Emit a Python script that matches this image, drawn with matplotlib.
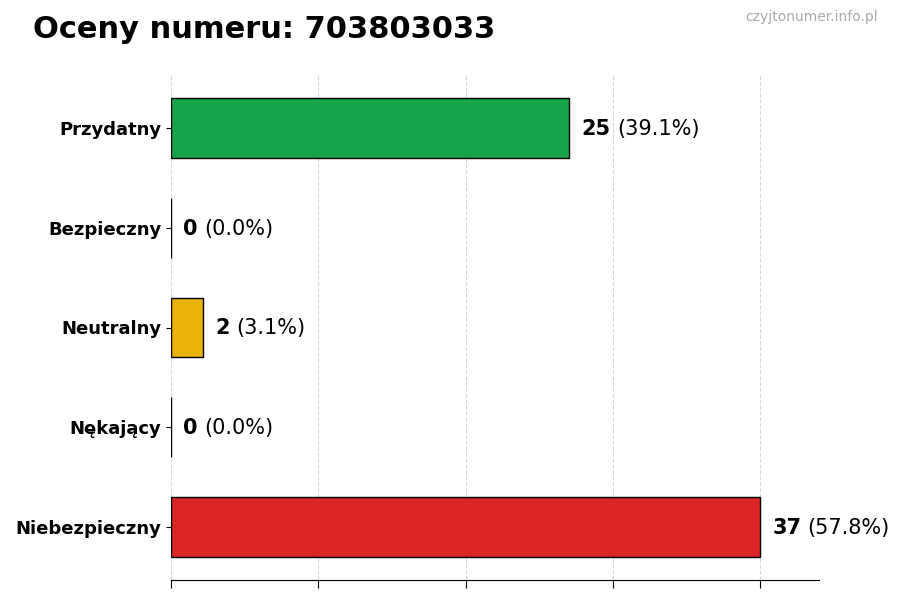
import matplotlib
matplotlib.use("Agg")
import matplotlib.pyplot as plt
import numpy as np

categories = ["Przydatny", "Bezpieczny", "Neutralny", "Nękający", "Niebezpieczny"]
values = [25, 0, 2, 0, 37]
percents = [39.1, 0.0, 3.1, 0.0, 57.8]
colors = ["#16a34a", "#9ca3af", "#eab308", "#f97316", "#dc2626"]
title = "Oceny numeru: 703803033"
watermark = "czyjtonumer.info.pl"

fig = plt.figure(figsize=(9, 6), dpi=100)
ax = fig.add_axes([171/900, 20/600, 648/900, 505/600])

y = np.arange(len(categories))
ax.barh(y, values, height=0.6, color=colors, edgecolor="black", linewidth=1)
ax.invert_yaxis()
ax.set_yticks(y)
ax.set_yticklabels(categories, fontsize=13, fontweight="bold")
vmax = max(values)
ax.set_xlim(0, vmax * 1.1)
ax.set_xticks(np.linspace(0, vmax, 5))
ax.set_xticklabels([])
ax.grid(axis="x", linestyle="--", color="#cccccc", alpha=0.8)
ax.set_axisbelow(True)
for s in ["top", "right", "left"]:
    ax.spines[s].set_visible(False)
ax.tick_params(axis="x", length=6)

for yi, v, p in zip(y, values, percents):
    t = ax.annotate(f"{v}", xy=(v, yi), xytext=(9, -0.7), textcoords="offset points",
                    fontsize=15, fontweight="bold", va="center", ha="left")
    ax.annotate(f"({p:.1f}%)", xy=(1, 0.5), xycoords=t, xytext=(4.4, 0),
                textcoords="offset points", fontsize=15, va="center", ha="left")

fig.text(33/900, 1 - 30/600, title, fontsize=22, fontweight="bold", va="center", ha="left")
fig.text(878/900, 1 - 17/600, watermark, fontsize=10, color="#aaaaaa", va="center", ha="right")

fig.savefig("out.png", dpi=100)
